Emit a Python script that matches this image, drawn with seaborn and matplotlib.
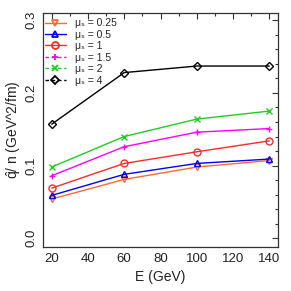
import matplotlib
matplotlib.use("Agg")
import matplotlib.pyplot as plt
import seaborn as sns
import pandas as pd
from matplotlib.lines import Line2D
from matplotlib.ticker import MultipleLocator

energy = [20, 60, 100, 140]
mu_labels = ["0.25", "0.5", "1", "1.5", "2", "4"]
q_025 = [0.054, 0.081, 0.098, 0.107]
q_05 = [0.059, 0.088, 0.103, 0.109]
q_1 = [0.069, 0.103, 0.119, 0.134]
q_15 = [0.086, 0.126, 0.146, 0.151]
q_2 = [0.098, 0.140, 0.164, 0.175]
q_4 = [0.157, 0.228, 0.237, 0.237]

series = [q_025, q_05, q_1, q_15, q_2, q_4]
colors = ["#FF6A33", "#0000FF", "#FF2A2A", "#FF00FF", "#22CC22", "#000000"]
markers = ["v", "^", "o", "+", "x", "D"]
legend_dash = ["-", "-", "-", (0, (2.5, 2)), (0, (2.5, 2)), (0, (2.5, 2))]

rows = []
for lab, vals in zip(mu_labels, series):
    for e, v in zip(energy, vals):
        rows.append({"E": e, "q": v, "mu": lab})
df = pd.DataFrame(rows)

sns.set_style("white")
plt.rcParams["font.family"] = ["Liberation Sans", "DejaVu Sans"]
plt.rcParams["mathtext.fontset"] = "custom"
plt.rcParams["mathtext.rm"] = "Liberation Sans"
plt.rcParams["mathtext.it"] = "Liberation Sans:italic"

fig = plt.figure(figsize=(2.91, 2.91), dpi=100)
ax = fig.add_axes([43 / 291, 1 - 247 / 291, 235 / 291, 234 / 291])

for i, lab in enumerate(mu_labels):
    sub = df[df["mu"] == lab]
    ms = 5 if markers[i] != "D" else 4
    sns.lineplot(data=sub, x="E", y="q", ax=ax, color=colors[i], lw=1.0,
                 marker=markers[i], markersize=ms, markerfacecolor="none",
                 markeredgecolor=colors[i], markeredgewidth=1.0, legend=False)

handles = []
for i, lab in enumerate(mu_labels):
    ms = 5 if markers[i] != "D" else 4
    handles.append(Line2D([], [], color=colors[i], lw=1.0, ls=legend_dash[i],
                          marker=markers[i], markersize=ms, markerfacecolor="none",
                          markeredgecolor=colors[i], markeredgewidth=1.3,
                          label="μₛ = " + lab))
leg = ax.legend(handles=handles, loc="upper left", frameon=False, fontsize=7.5,
                handlelength=2.0, handletextpad=0.9, labelspacing=0.14,
                borderaxespad=0.3, borderpad=0.2)
leg.set_bbox_to_anchor((-0.015, 1.0), transform=ax.transAxes)

ax.set_xlim(15.2, 144.8)
ax.set_ylim(-0.012, 0.31)
ax.set_xticks([20, 40, 60, 80, 100, 120, 140])
ax.set_yticks([0.0, 0.1, 0.2, 0.3])
ax.set_yticklabels(["0.0", "0.1", "0.2", "0.3"], rotation=90, va="center")
ax.xaxis.set_minor_locator(MultipleLocator(10))
ax.yaxis.set_minor_locator(MultipleLocator(0.02))
ax.tick_params(which="both", direction="in", top=True, right=True,
               labelsize=9.5, colors="#333333", labelcolor="#222222")
ax.tick_params(which="major", length=4, width=0.8)
ax.tick_params(which="minor", length=2.5, width=0.8)
ax.tick_params(axis="x", pad=4)
ax.tick_params(axis="y", pad=4)
for s in ax.spines.values():
    s.set_color("#333333")
    s.set_linewidth(0.9)

ax.set_xlabel("E (GeV)", fontsize=10, color="#222222", labelpad=4)
ax.set_ylabel(r"$\hat{\mathrm{q}}$/ n (GeV^2/fm)", fontsize=10, color="#222222", labelpad=2)

fig.savefig("out.png", dpi=100)
